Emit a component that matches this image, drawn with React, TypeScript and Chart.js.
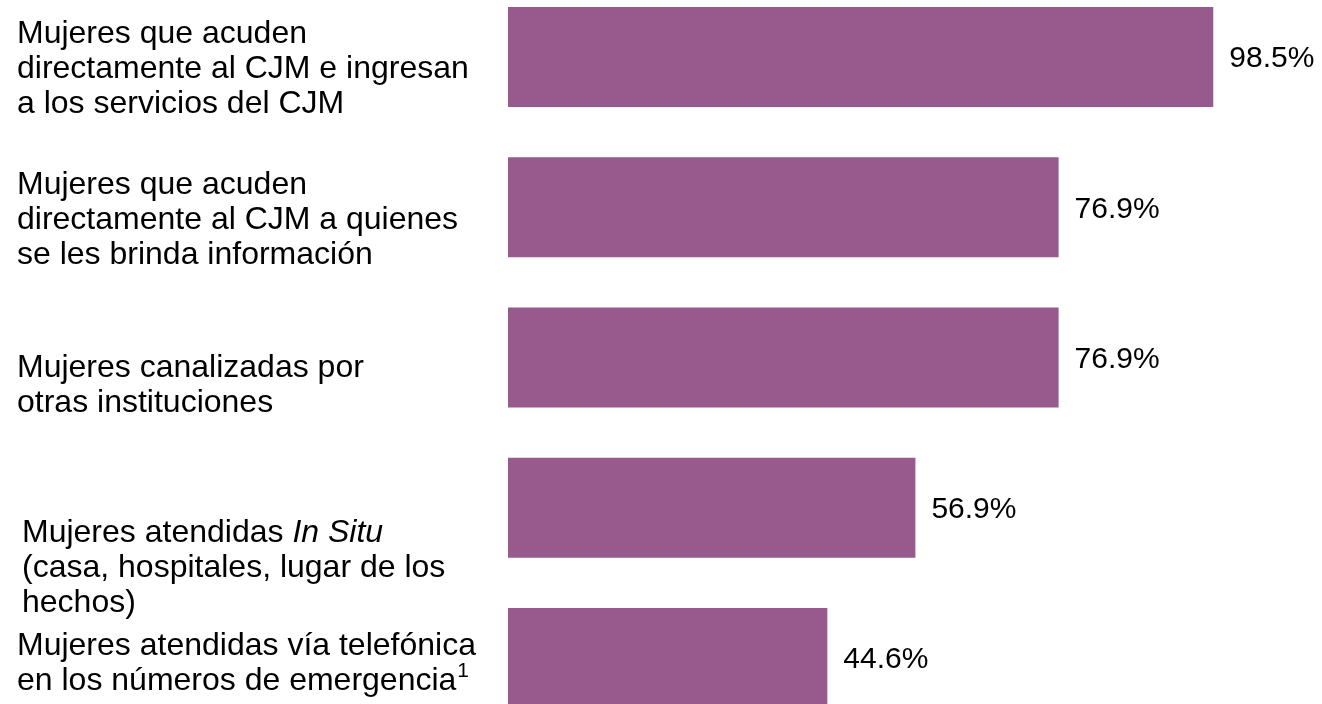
import React, { useEffect, useRef } from "react";
import { Chart, registerables } from "chart.js";

Chart.register(...registerables);

// ---- data ----
const categoryLines: string[][] = [
  ["Mujeres que acuden", "directamente al CJM e ingresan", "a los servicios del CJM"],
  ["Mujeres que acuden", "directamente al CJM a quienes", "se les brinda información"],
  ["Mujeres canalizadas por", "otras instituciones"],
  ["Mujeres atendidas _In Situ_", "(casa, hospitales, lugar de los", "hechos)"],
  ["Mujeres atendidas vía telefónica", "en los números de emergencia^1"],
];
const categories: string[] = categoryLines.map((l) => l.join(" ").replace(/[_^]/g, ""));
const values: number[] = [98.5, 76.9, 76.9, 56.9, 44.6];
const valueLabels: string[] = values.map((v) => v.toFixed(1) + "%");

// ---- style ----
const FONT = '"Liberation Sans", Arial, Helvetica, sans-serif';
const FONT_SIZE = 32;
const VALUE_FONT_SIZE = 30;
const LINE_H = 35;
const BAR_COLOR = "#985A8C";
const labelX = [17, 17, 17, 22, 17];
const labelDy = [12, 13, 28, 60, 6];

type Seg = { t: string; italic: boolean; sup: boolean };
function parseLine(line: string): Seg[] {
  const segs: Seg[] = [];
  let italic = false;
  let buf = "";
  for (let i = 0; i < line.length; i++) {
    const c = line[i];
    if (c === "_") {
      if (buf) segs.push({ t: buf, italic, sup: false });
      buf = "";
      italic = !italic;
    } else if (c === "^") {
      if (buf) segs.push({ t: buf, italic, sup: false });
      buf = "";
      segs.push({ t: line[i + 1], italic, sup: true });
      i++;
    } else buf += c;
  }
  if (buf) segs.push({ t: buf, italic, sup: false });
  return segs;
}

const labelPlugin = {
  id: "labels",
  afterDatasetsDraw(chart: any) {
    const ctx = chart.ctx as CanvasRenderingContext2D;
    const meta = chart.getDatasetMeta(0);
    const yScale = chart.scales.y;
    ctx.save();
    ctx.fillStyle = "#000";
    ctx.textBaseline = "middle";
    ctx.textAlign = "left";
    // value labels
    ctx.font = `${VALUE_FONT_SIZE}px ${FONT}`;
    meta.data.forEach((bar: any, i: number) => {
      ctx.fillText(valueLabels[i], bar.x + 16, bar.y + 2);
    });
    // category labels
    categoryLines.forEach((lines, i) => {
      const cy = yScale.getPixelForValue(i) + labelDy[i];
      const n = lines.length;
      lines.forEach((line, j) => {
        const y = cy + (j - (n - 1) / 2) * LINE_H;
        let x = labelX[i];
        parseLine(line).forEach((s) => {
          if (s.sup) {
            ctx.font = `${s.italic ? "italic " : ""}${Math.round(FONT_SIZE * 0.65)}px ${FONT}`;
            ctx.fillText(s.t, x + 1, y - FONT_SIZE * 0.33);
            x += ctx.measureText(s.t).width + 1;
          } else {
            ctx.font = `${s.italic ? "italic " : ""}${FONT_SIZE}px ${FONT}`;
            ctx.fillText(s.t, x, y);
            x += ctx.measureText(s.t).width;
          }
        });
      });
    });
    ctx.restore();
  },
};

export default function App() {
  const ref = useRef<HTMLCanvasElement | null>(null);
  useEffect(() => {
    if (!ref.current) return;
    const chart = new Chart(ref.current, {
      type: "bar",
      data: {
        labels: categories,
        datasets: [
          {
            data: values,
            backgroundColor: BAR_COLOR,
            borderWidth: 0,
            barPercentage: 0.666,
            categoryPercentage: 1,
          },
        ],
      },
      options: {
        indexAxis: "y",
        responsive: false,
        animation: false,
        devicePixelRatio: 1,
        layout: { padding: { left: 508, right: 98, top: 0, bottom: 0 } },
        scales: {
          x: { display: false, min: 0, max: 100 },
          y: { display: false },
        },
        plugins: { legend: { display: false }, tooltip: { enabled: false } },
      },
      plugins: [labelPlugin],
    } as any);
    return () => chart.destroy();
  }, []);
  return (
    <div
      style={{
        position: "fixed",
        left: 0,
        top: 0,
        width: 1322,
        height: 704,
        overflow: "hidden",
        background: "#fff",
      }}
    >
      <canvas
        ref={ref}
        width={1322}
        height={751}
        style={{ position: "absolute", left: 0, top: -18, display: "block" }}
      />
    </div>
  );
}
